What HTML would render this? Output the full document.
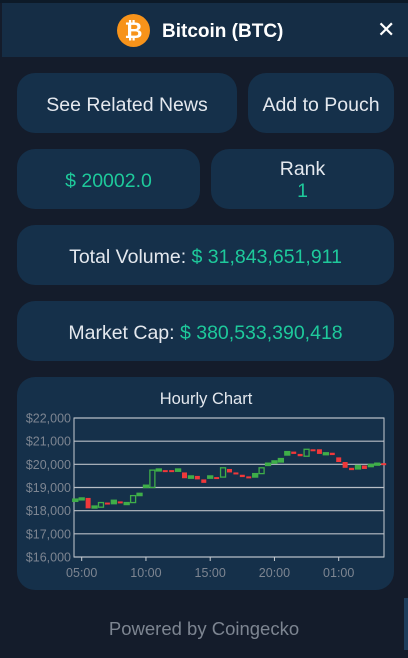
<!DOCTYPE html>
<html><head><meta charset="utf-8"><style>
*{box-sizing:border-box;margin:0;padding:0}
body{width:408px;height:658px;background:#141c2b;font-family:"Liberation Sans",sans-serif;position:relative;overflow:hidden;color:#e4e8ee}
.hdr{position:absolute;left:2px;top:3px;width:406px;height:54px;background:#152d45}
.top{position:absolute;left:0;top:0;width:408px;height:3px;background:#0d1a28}
.card{position:absolute;background:#15304a;border-radius:18px;display:flex;align-items:center;justify-content:center;font-size:19.5px;text-align:center;padding-top:4px}
.g{color:#1ec99b}
</style></head><body>
<div class="top"></div>
<div class="hdr">
 <div style="position:absolute;left:115px;top:11px;width:33px;height:33px;border-radius:50%;background:#f7931a;color:#fff;font-weight:bold;font-size:22px;text-align:center;line-height:33px">₿</div>
 <div style="position:absolute;left:160px;top:18px;font-size:19px;font-weight:bold;color:#fff">Bitcoin (BTC)</div>
 <div style="position:absolute;left:375px;top:14px;font-size:22px;color:#fff">✕</div>
</div>
<div class="card" style="left:17px;top:73px;width:220px;height:60px">See Related News</div>
<div class="card" style="left:248px;top:73px;width:146px;height:60px">Add to Pouch</div>
<div class="card g" style="left:17px;top:149px;width:183px;height:60px">$ 20002.0</div>
<div class="card" style="left:211px;top:149px;width:183px;height:60px;flex-direction:column;line-height:22px;padding-top:2px">Rank<span class="g">1</span></div>
<div class="card" style="left:17px;top:225px;width:377px;height:60px">Total Volume:&nbsp;<span class="g">$ 31,843,651,911</span></div>
<div class="card" style="left:17px;top:301px;width:377px;height:60px">Market Cap:&nbsp;<span class="g">$ 380,533,390,418</span></div>
<div class="card" style="left:17px;top:377px;width:377px;height:213px;display:block"></div>
<svg id="chart" width="408" height="658" style="position:absolute;left:0;top:0"></svg>
<div style="position:absolute;left:0;width:408px;top:618px;text-align:center;font-size:18.5px;color:#7d8591">Powered by Coingecko</div>
<div style="position:absolute;left:404px;top:598px;width:4px;height:52px;background:#1e3d5c"></div>
<script>
const opens=[18400,18480,18550,18150,18150,18350,18300,18400,18300,18350,18650,19000,19000,19750,19750,19750,19700,19650,19400,19500,19350,19400,19450,19450,19800,19650,19550,19480,19450,19600,19950,20050,20100,20400,20550,20450,20350,20650,20650,20450,20500,20300,20100,19850,19800,19950,19900,20000,20050];
const closes=[18500,18550,18100,18200,18350,18300,18450,18350,18350,18650,18750,19100,19750,19800,19730,19700,19800,19400,19500,19350,19200,19500,19400,19850,19650,19600,19450,19450,19600,19850,20050,20150,20250,20550,20450,20350,20650,20600,20450,20500,20400,20100,19850,19750,19950,19800,20000,20050,20000];
const yTicks=[16000,17000,18000,19000,20000,21000,22000];
const xTicks=["05:00","10:00","15:00","20:00","01:00"];
const xTickHours=[5,10,15,20,25];
const startHour=4.5, stepHour=0.5;
const svg=document.getElementById('chart');const NS='http://www.w3.org/2000/svg';
const L=74,R=384,T=418,B=557;
const y=v=>B-(v-16000)/6000*(B-T);
const x=h=>81.7+(h-5)*12.85;
function mk(t,a){const e=document.createElementNS(NS,t);for(const k in a)e.setAttribute(k,a[k]);svg.appendChild(e);return e;}
let t=mk('text',{x:206,y:404,'text-anchor':'middle','font-size':16.5,fill:'#e4e8ee','font-family':'Liberation Sans'});t.textContent='Hourly Chart';

mk('rect',{x:L,y:T,width:R-L,height:B-T,fill:'none',stroke:'#c8ccd2','stroke-width':1});
yTicks.forEach(v=>{
 const l=mk('line',{x1:L,x2:R,y1:y(v),y2:y(v),stroke:'#b8bec6','stroke-width':1.2});
 
 const s=mk('text',{x:71,y:y(v)+4.5,'text-anchor':'end','font-size':12.5,fill:'#7d8591','font-family':'Liberation Sans'});
 s.textContent='$'+v.toLocaleString('en-US');
 
});
xTicks.forEach((lab,i)=>{
 const xx=x(xTickHours[i]);
 mk('line',{x1:xx,x2:xx,y1:B,y2:B+4,stroke:'#c8ccd2'});
 const s=mk('text',{x:xx,y:B+20,'text-anchor':'middle','font-size':12.5,fill:'#7d8591','font-family':'Liberation Sans'});
 s.textContent=lab;
 
});
opens.forEach((o,i)=>{
 const c=closes[i];const cx=x(startHour+i*stepHour);if(cx>R+2)return;
 const up=c>=o;const top=y(Math.max(o,c)),h=Math.max(2,Math.abs(y(o)-y(c)));
 const r=up?mk('rect',{x:cx-2.5,y:top,width:5,height:h,fill:h>4?'none':'#3fae49',stroke:'#3fae49','stroke-width':1.3}):
  mk('rect',{x:cx-2.5,y:top,width:5,height:h,fill:'#f0383a'});
 
});
</script>
</body></html>
